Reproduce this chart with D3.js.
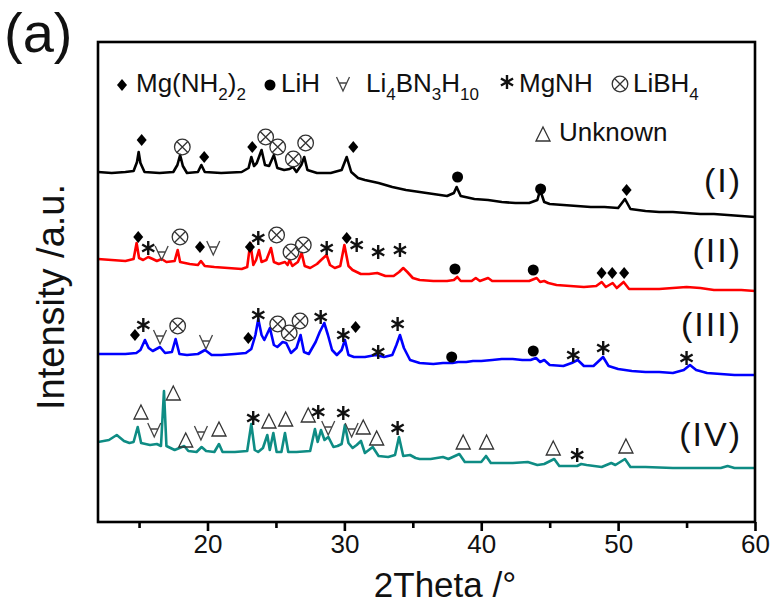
<!DOCTYPE html>
<html><head><meta charset="utf-8">
<script src="https://cdn.jsdelivr.net/npm/d3@7"></script>
<style>body{margin:0;background:#fff}svg text{font-family:Arial,"Liberation Sans",sans-serif}</style>
</head><body><svg id="c" width="774" height="606"></svg>
<script>
// [2theta, intensity a.u.]
const traceI=[[12.0,350],[13.0,349],[14.0,350],[14.6,351],[14.85,360],[14.97,370],[15.1,359],[15.4,350],[16.5,349],[17.5,350],[17.8,357],[18.0,367],[18.2,356],[18.5,349],[19.3,350],[19.55,357],[19.8,350],[21.0,349],[22.5,350],[23.0,354],[23.2,365],[23.4,356],[23.6,359],[23.95,372],[24.2,357],[24.5,356],[24.85,367],[25.1,354],[25.6,352],[26.0,353],[26.25,355],[26.5,350],[26.85,357],[27.07,365],[27.3,352],[28.0,349],[29.0,349],[29.8,352],[30.17,365],[30.5,350],[31.0,344],[31.5,342],[32.5,339],[33.5,335],[34.5,332],[35.5,330],[36.5,328],[37.5,326],[38.0,329],[38.2,335],[38.5,326],[39.5,323],[40.5,322],[41.5,320],[42.5,319],[43.5,319],[44.1,322],[44.3,332],[44.6,320],[45.0,318],[46.0,317],[47.0,316],[48.0,315],[49.0,315],[50.0,314],[50.5,323],[50.9,313],[52.0,311],[53.0,310],[54.0,310],[55.0,309],[56.0,308],[57.0,308],[58.0,307],[59.0,306],[60.0,305]];
const traceII=[[12.0,263],[13.0,262],[14.0,261],[14.6,263],[14.82,279],[15.0,264],[15.3,262],[15.67,265],[16.0,263],[16.3,261],[16.65,263],[17.0,260],[17.6,261],[17.82,272],[18.0,260],[18.7,258],[19.3,257],[19.52,261],[19.8,256],[20.5,255],[21.5,254],[22.5,253],[22.9,255],[23.13,279],[23.35,257],[23.55,262],[23.76,272],[23.95,260],[24.3,262],[24.64,274],[24.85,260],[25.2,258],[25.66,260],[25.85,257],[26.0,262],[26.2,256],[26.6,260],[26.88,269],[27.1,256],[27.5,254],[28.0,258],[28.3,262],[28.7,267],[28.95,257],[29.3,254],[29.7,256],[30.0,277],[30.3,256],[30.6,252],[31.2,248],[31.8,248],[32.4,249],[33.0,246],[33.6,246],[34.0,250],[34.3,254],[34.6,250],[35.0,244],[35.5,242],[36.5,241],[37.5,241],[38.0,242],[38.25,245],[38.5,241],[39.3,241],[39.6,244],[39.9,241],[40.5,244],[40.8,241],[41.5,241],[42.5,241],[43.5,241],[44.05,244],[44.3,240],[44.6,241],[44.9,239],[45.5,237],[46.5,236],[47.5,235],[48.4,236],[48.8,240],[49.1,235],[49.6,239],[49.9,234],[50.4,240],[50.8,233],[52.0,233],[53.0,233],[54.0,234],[55.0,235],[56.0,234],[57.0,232],[58.0,232],[59.0,232],[60.0,231]];
const traceIII=[[12.0,168],[13.0,168],[14.0,168],[14.8,169],[15.1,172],[15.43,182],[15.7,174],[16.0,171],[16.53,175],[16.9,169],[17.4,170],[17.67,183],[17.95,168],[18.5,167],[19.3,168],[19.82,172],[20.3,167],[21.0,167],[22.0,168],[22.8,169],[23.2,173],[23.5,187],[23.71,203],[23.95,187],[24.15,182],[24.56,194],[24.85,177],[25.1,175],[25.49,180],[25.75,179],[26.1,169],[26.5,174],[26.8,187],[27.05,170],[27.4,168],[27.9,180],[28.2,190],[28.53,199],[28.8,187],[29.1,172],[29.45,167],[29.8,172],[30.04,182],[30.3,167],[30.7,165],[31.5,165],[32.3,167],[32.9,165],[33.5,167],[33.8,177],[34.06,187],[34.35,174],[34.8,162],[35.5,159],[36.5,158],[37.2,159],[37.9,159],[38.3,160],[38.9,160],[39.4,161],[40.0,161],[40.8,162],[41.5,163],[42.3,163],[43.0,162],[43.6,162],[44.0,164],[44.3,160],[44.6,162],[45.0,157],[46.0,156],[46.6,159],[47.05,162],[47.5,156],[48.2,156],[48.9,165],[49.3,156],[50.0,153],[51.0,151],[52.0,150],[53.0,150],[54.0,149],[54.8,152],[55.25,157],[55.7,152],[56.5,149],[57.5,148],[58.5,147],[60.0,147]];
const traceIV=[[12.0,80],[12.8,82],[13.37,87],[13.9,81],[14.3,79],[14.6,80],[14.9,95],[15.15,79],[15.8,77],[16.3,78],[16.6,76],[16.82,131],[17.0,76],[17.6,72],[18.3,76],[18.6,71],[19.2,70],[19.57,75],[19.9,71],[20.5,70],[20.84,78],[21.1,70],[22.0,70],[22.9,71],[23.2,98],[23.45,72],[23.7,70],[24.05,74],[24.37,87],[24.55,72],[24.81,89],[25.05,70],[25.4,70],[25.66,89],[25.9,70],[26.5,70],[27.5,71],[27.85,93],[28.05,80],[28.29,92],[28.55,82],[28.83,85],[29.2,75],[29.5,76],[29.8,78],[30.04,97],[30.3,79],[30.6,74],[30.9,77],[31.21,81],[31.5,69],[32.07,75],[32.5,66],[33.2,65],[33.7,67],[33.99,85],[34.3,66],[34.8,67],[35.2,64],[35.5,63],[36.3,63],[37.2,65],[37.6,63],[38.4,68],[38.8,60],[40.0,60],[40.35,66],[40.7,59],[42.3,59],[43.4,60],[44.1,57],[44.6,58],[45.33,63],[45.7,56],[47.0,56],[47.3,58],[47.7,57],[48.8,55],[49.5,59],[49.8,57],[50.5,63],[50.9,55],[52.0,55],[54.0,54],[56.0,54],[57.5,54],[58.0,56],[58.5,54],[60.0,54]];

// phase markers [2theta, intensity, phase]  M=Mg(NH2)2 L=LiH A=Li4BN3H10 N=MgNH B=LiBH4 U=Unknown
const peaksI=[[15.19,382,"M"],[18.16,375,"B"],[19.76,365,"M"],[23.27,375,"M"],[24.25,385,"B"],[25.13,375,"B"],[26.27,363,"B"],[27.17,379,"B"],[30.65,375,"M"],[38.27,345,"L"],[44.34,333,"L"],[50.62,332,"M"]];
const peaksII=[[14.94,285,"M"],[15.67,274,"N"],[16.65,269,"A"],[17.99,285,"B"],[19.45,275,"M"],[20.42,274,"A"],[23.10,275,"M"],[23.71,284,"N"],[25.05,287,"B"],[26.10,270,"B"],[27.00,277,"B"],[28.71,274,"N"],[30.17,284,"M"],[30.90,277,"N"],[32.47,270,"N"],[34.06,272,"N"],[38.08,253,"L"],[43.80,252,"L"],[48.79,249,"M"],[49.57,249,"M"],[50.44,249,"M"]];
const peaksIII=[[14.70,187,"M"],[15.31,197,"N"],[16.53,185,"A"],[17.82,196,"B"],[19.89,180,"A"],[22.98,184,"M"],[23.71,207,"N"],[25.13,198,"B"],[25.97,189,"B"],[26.76,201,"B"],[28.27,205,"N"],[29.92,187,"N"],[30.82,195,"M"],[32.47,170,"N"],[33.89,198,"N"],[37.84,165,"L"],[43.80,171,"L"],[46.72,167,"N"],[48.91,174,"N"],[55.00,164,"N"]];
const peaksIV=[[15.14,110,"U"],[16.11,92,"A"],[17.50,129,"U"],[18.41,82,"U"],[19.52,89,"A"],[20.84,93,"U"],[23.34,104,"N"],[24.49,101,"U"],[25.71,103,"U"],[27.36,107,"U"],[28.09,110,"N"],[28.82,94,"A"],[29.92,109,"N"],[30.53,92,"A"],[31.38,95,"U"],[32.36,84,"U"],[33.89,94,"N"],[38.68,80,"U"],[40.39,80,"U"],[45.26,74,"U"],[47.01,67,"N"],[50.57,76,"U"]];

const traceNames=["(I)","(II)","(III)","(IV)"];
const traceColors=["#000000","#ff0000","#0000ff","#0e8c84"];
const xTicks=[20,30,40,50,60];
const xMinorTicks=[15,25,35,45,55];

const svg=d3.select("#c");
const L=98,R=755,T=42,B=522;
const x=d3.scaleLinear().domain([12,60]).range([L,R]);
const y=d3.scaleLinear().domain([0,480]).range([B,T]);

const traces=[traceI,traceII,traceIII,traceIV];
const peaks=[peaksI,peaksII,peaksIII,peaksIV];
const line=d3.line().x(d=>x(d[0])).y(d=>y(d[1]));
svg.append("clipPath").attr("id","pc").append("rect").attr("x",L).attr("y",T).attr("width",R-L).attr("height",B-T);
traces.forEach((t,i)=>{
  svg.append("path").datum(t).attr("d",line).attr("fill","none").attr("stroke",traceColors[i])
    .attr("stroke-width",2.6).attr("stroke-linejoin","round").attr("clip-path","url(#pc)");
});

function drawMarker(g,type,cx,cy){
  const k="#000";
  if(type==="M"){
    g.append("path").attr("d",`M${cx},${cy-6}L${cx+5},${cy}L${cx},${cy+6}L${cx-5},${cy}Z`).attr("fill",k);
  }else if(type==="L"){
    g.append("circle").attr("cx",cx).attr("cy",cy).attr("r",5.5).attr("fill",k);
  }else if(type==="B"){
    g.append("circle").attr("cx",cx).attr("cy",cy).attr("r",7.8).attr("fill","none").attr("stroke","#333").attr("stroke-width",1.3);
    const d=5.5;
    g.append("path").attr("d",`M${cx-d},${cy-d}L${cx+d},${cy+d}M${cx+d},${cy-d}L${cx-d},${cy+d}`).attr("stroke","#333").attr("stroke-width",1.3);
  }else if(type==="N"){
    const r=7;let p="";
    [90,30,150].forEach(a=>{const ra=a*Math.PI/180;p+=`M${cx-r*Math.cos(ra)},${cy-r*Math.sin(ra)}L${cx+r*Math.cos(ra)},${cy+r*Math.sin(ra)}`;});
    g.append("path").attr("d",p).attr("stroke","#111").attr("stroke-width",2.4).attr("stroke-linecap","butt");
  }else if(type==="A"){
    g.append("path").attr("d",`M${cx-6.5},${cy-7}L${cx},${cy+7}L${cx+6.5},${cy-7}M${cx-3.6},${cy-1}L${cx+3.6},${cy-1}`)
      .attr("fill","none").attr("stroke","#444").attr("stroke-width",1.3);
  }else if(type==="U"){
    g.append("path").attr("d",`M${cx},${cy-7}L${cx+7},${cy+7}L${cx-7},${cy+7}Z`).attr("fill","none").attr("stroke","#333").attr("stroke-width",1.3);
  }
}
const mg=svg.append("g");
peaks.forEach(p=>p.forEach(d=>drawMarker(mg,d[2],x(d[0]),y(d[1]))));

// frame
svg.append("rect").attr("x",L).attr("y",T).attr("width",R-L).attr("height",B-T).attr("fill","none").attr("stroke","#000").attr("stroke-width",2.6);
// x axis
const xa=svg.append("g").attr("transform",`translate(0,${B})`).call(d3.axisBottom(x).tickValues(xTicks).tickSize(9).tickPadding(4).tickFormat(d3.format("d")));
xa.select(".domain").remove();
xa.selectAll("line").attr("stroke-width",2.6);
xa.selectAll("text").attr("font-size",26).attr("font-family","Arial,'Liberation Sans',sans-serif").attr("fill","#111");
const xm=svg.append("g").attr("transform",`translate(0,${B})`).call(d3.axisBottom(x).tickValues(xMinorTicks).tickSize(6).tickFormat(""));
xm.select(".domain").remove();
xm.selectAll("line").attr("stroke-width",2.6);

svg.append("text").attr("x",445).attr("y",597).attr("text-anchor","middle").attr("font-size",35).attr("fill","#111").text("2Theta /°");
svg.append("text").attr("transform","translate(64,297) rotate(-90)").attr("text-anchor","middle").attr("font-size",38).attr("fill","#111").text("Intensity /a.u.");
svg.append("text").attr("x",4).attr("y",52).attr("font-size",56).attr("fill","#111").text("(a)");

// trace labels
const labelBottoms=[192,262,336,446];
traceNames.forEach((n,i)=>svg.append("text").attr("x",742).attr("y",labelBottoms[i]).attr("text-anchor","end").attr("font-size",34).attr("letter-spacing",2).attr("fill","#111").text(n));

// legend
const lg=svg.append("g").attr("font-size",26).attr("fill","#111");
drawMarker(lg,"M",122,85);
let t=lg.append("text").attr("x",136).attr("y",92);
t.append("tspan").text("Mg(NH");t.append("tspan").attr("font-size",17).attr("dy",8).text("2");t.append("tspan").attr("dy",-8).text(")");t.append("tspan").attr("font-size",17).attr("dy",8).text("2");
drawMarker(lg,"L",270,85);
lg.append("text").attr("x",281).attr("y",92).text("LiH");
drawMarker(lg,"A",343,84);
t=lg.append("text").attr("x",366).attr("y",92);
t.append("tspan").text("Li");t.append("tspan").attr("font-size",17).attr("dy",8).text("4");t.append("tspan").attr("dy",-8).text("BN");t.append("tspan").attr("font-size",17).attr("dy",8).text("3");t.append("tspan").attr("dy",-8).text("H");t.append("tspan").attr("font-size",17).attr("dy",8).text("10");
drawMarker(lg,"N",507,82);
lg.append("text").attr("x",519).attr("y",92).text("MgNH");
drawMarker(lg,"B",620,84);
t=lg.append("text").attr("x",633).attr("y",92);
t.append("tspan").text("LiBH");t.append("tspan").attr("font-size",17).attr("dy",8).text("4");
drawMarker(lg,"U",543,134);
lg.append("text").attr("x",559).attr("y",141).text("Unknown");
</script></body></html>
